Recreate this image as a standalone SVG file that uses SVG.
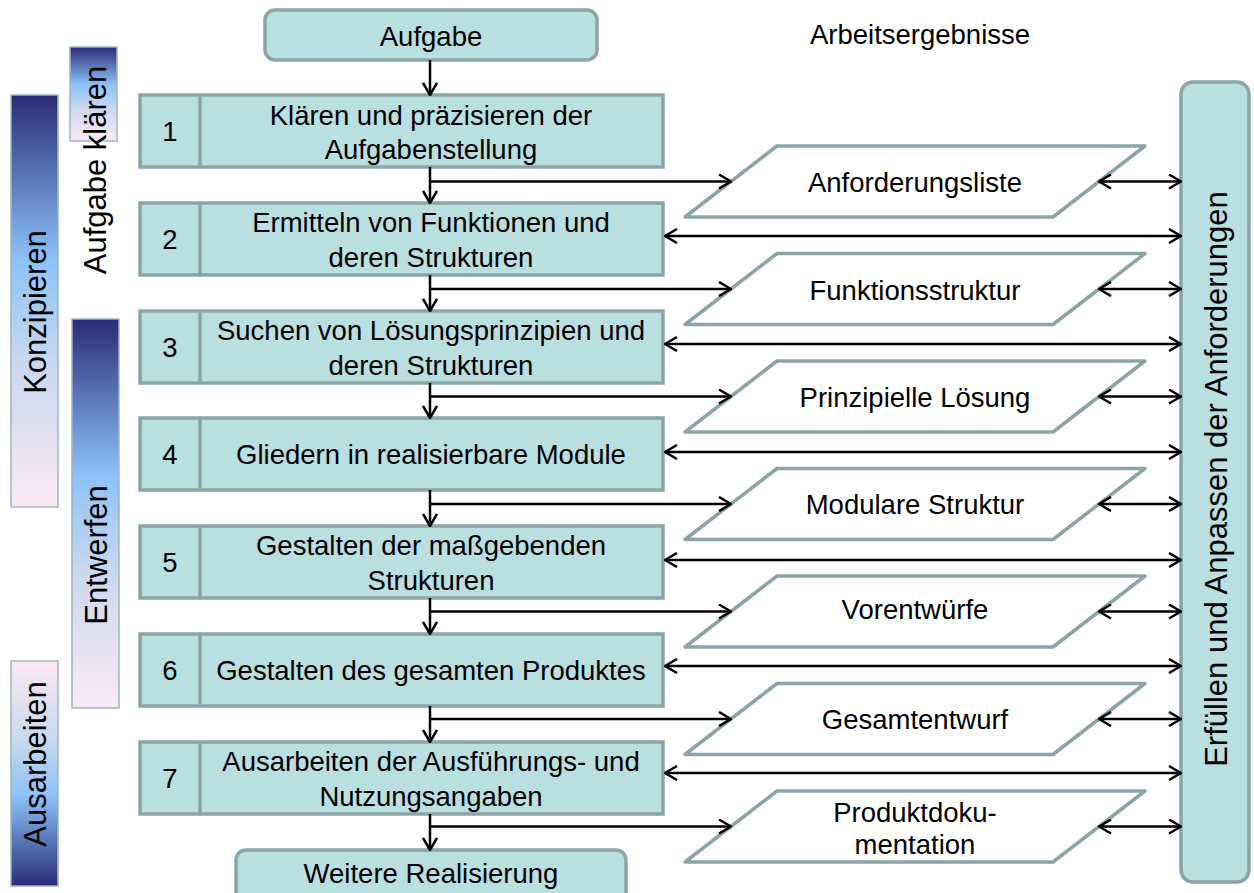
<svg xmlns="http://www.w3.org/2000/svg" width="1254" height="893" viewBox="0 0 1254 893">
  <defs>
    <style>
      text { font-family: "Liberation Sans", Arial, sans-serif; fill: #000; }
      .t { font-size: 27.5px; text-anchor: middle; }
      .rt { font-size: 31px; text-anchor: middle; }
      .box { fill: #B9DFE1; stroke: #8BA5A6; stroke-width: 3.5; }
      .doc { fill: #FFFFFF; stroke: #8BA5A6; stroke-width: 3.5; stroke-linejoin: round; }
      .phase { stroke: #9DB7BA; stroke-width: 1.5; }
      .c { fill: none; stroke: #000; stroke-width: 2.5; }
      .one { marker-end: url(#arr); }
      .two { marker-start: url(#arr); marker-end: url(#arr); }
    </style>
    <marker id="arr" viewBox="0 0 14 16" refX="13" refY="8" markerWidth="14" markerHeight="16" markerUnits="userSpaceOnUse" orient="auto-start-reverse">
      <path d="M1,1 L13,8 L1,15" fill="none" stroke="#000" stroke-width="2.5"/>
    </marker>
    <linearGradient id="gDown" x1="0" y1="0" x2="0" y2="1">
      <stop offset="0" stop-color="#2A2B78"/>
      <stop offset="0.4" stop-color="#8CC2F8"/>
      <stop offset="0.65" stop-color="#C9D8EE"/>
      <stop offset="1" stop-color="#FCE9F5"/>
    </linearGradient>
    <linearGradient id="gUp" x1="0" y1="1" x2="0" y2="0">
      <stop offset="0" stop-color="#2A2B78"/>
      <stop offset="0.4" stop-color="#8CC2F8"/>
      <stop offset="0.65" stop-color="#C9D8EE"/>
      <stop offset="1" stop-color="#FCE9F5"/>
    </linearGradient>
  </defs>

  <rect width="1254" height="893" fill="#FFFFFF"/>

  <!-- phase bars on the left -->
  <g id="phase-klaeren">
    <rect class="phase" x="70" y="47" width="47" height="94" fill="url(#gDown)"/>
  </g>
  <g id="phase-konzipieren">
    <rect class="phase" x="11" y="95" width="47" height="412" fill="url(#gDown)"/>
    <text class="rt" transform="translate(46,312) rotate(-90)">Konzipieren</text>
  </g>
  <g id="phase-entwerfen">
    <rect class="phase" x="72" y="319" width="47" height="389" fill="url(#gDown)"/>
    <text class="rt" transform="translate(107,555) rotate(-90)">Entwerfen</text>
  </g>
  <g id="phase-ausarbeiten">
    <rect class="phase" x="11" y="661" width="47" height="225" fill="url(#gUp)"/>
    <text class="rt" transform="translate(46,764) rotate(-90)">Ausarbeiten</text>
  </g>
  <g id="phase-aufgabe-label">
    <text class="rt" transform="translate(106,170) rotate(-90)">Aufgabe klären</text>
  </g>

  <!-- start and end -->
  <g id="aufgabe">
    <rect class="box" x="265" y="10" width="332" height="50" rx="10"/>
    <text class="t" x="431" y="46">Aufgabe</text>
  </g>
  <g id="weitere-realisierung">
    <rect class="box" x="236" y="850" width="390" height="60" rx="10"/>
    <text class="t" x="431" y="883">Weitere Realisierung</text>
  </g>

  <text class="t" x="920" y="44">Arbeitsergebnisse</text>

  <!-- working steps -->
  <g id="step1">
    <rect class="box" x="140" y="95" width="523" height="72"/>
    <line class="box" x1="200" y1="95" x2="200" y2="167"/>
    <text class="t" x="170" y="141">1</text>
    <text class="t" x="431" y="125">Klären und präzisieren der</text>
    <text class="t" x="431" y="159">Aufgabenstellung</text>
  </g>
  <g id="step2">
    <rect class="box" x="140" y="203" width="523" height="72"/>
    <line class="box" x1="200" y1="203" x2="200" y2="275"/>
    <text class="t" x="170" y="249">2</text>
    <text class="t" x="431" y="232">Ermitteln von Funktionen und</text>
    <text class="t" x="431" y="267">deren Strukturen</text>
  </g>
  <g id="step3">
    <rect class="box" x="140" y="311" width="523" height="72"/>
    <line class="box" x1="200" y1="311" x2="200" y2="383"/>
    <text class="t" x="170" y="357">3</text>
    <text class="t" x="431" y="340">Suchen von Lösungsprinzipien und</text>
    <text class="t" x="431" y="375">deren Strukturen</text>
  </g>
  <g id="step4">
    <rect class="box" x="140" y="418" width="523" height="72"/>
    <line class="box" x1="200" y1="418" x2="200" y2="490"/>
    <text class="t" x="170" y="464">4</text>
    <text class="t" x="431" y="464">Gliedern in realisierbare Module</text>
  </g>
  <g id="step5">
    <rect class="box" x="140" y="526" width="523" height="72"/>
    <line class="box" x1="200" y1="526" x2="200" y2="598"/>
    <text class="t" x="170" y="572">5</text>
    <text class="t" x="431" y="555">Gestalten der maßgebenden</text>
    <text class="t" x="431" y="590">Strukturen</text>
  </g>
  <g id="step6">
    <rect class="box" x="140" y="634" width="523" height="72"/>
    <line class="box" x1="200" y1="634" x2="200" y2="706"/>
    <text class="t" x="170" y="680">6</text>
    <text class="t" x="431" y="680">Gestalten des gesamten Produktes</text>
  </g>
  <g id="step7">
    <rect class="box" x="140" y="742" width="523" height="72"/>
    <line class="box" x1="200" y1="742" x2="200" y2="814"/>
    <text class="t" x="170" y="788">7</text>
    <text class="t" x="431" y="771">Ausarbeiten der Ausführungs- und</text>
    <text class="t" x="431" y="806">Nutzungsangaben</text>
  </g>

  <!-- work results -->
  <g id="result1">
    <polygon class="doc" points="777,146 1145,146 1053,217 685,217"/>
    <text class="t" x="915" y="192">Anforderungsliste</text>
  </g>
  <g id="result2">
    <polygon class="doc" points="777,253.5 1145,253.5 1053,324.5 685,324.5"/>
    <text class="t" x="915" y="300">Funktionsstruktur</text>
  </g>
  <g id="result3">
    <polygon class="doc" points="777,361 1145,361 1053,432 685,432"/>
    <text class="t" x="915" y="407">Prinzipielle Lösung</text>
  </g>
  <g id="result4">
    <polygon class="doc" points="777,468.5 1145,468.5 1053,539.5 685,539.5"/>
    <text class="t" x="915" y="514">Modulare Struktur</text>
  </g>
  <g id="result5">
    <polygon class="doc" points="777,576 1145,576 1053,647 685,647"/>
    <text class="t" x="915" y="619">Vorentwürfe</text>
  </g>
  <g id="result6">
    <polygon class="doc" points="777,683.5 1145,683.5 1053,754.5 685,754.5"/>
    <text class="t" x="915" y="729">Gesamtentwurf</text>
  </g>
  <g id="result7">
    <polygon class="doc" points="777,791 1145,791 1053,862 685,862"/>
    <text class="t" x="915" y="822">Produktdoku-</text>
    <text class="t" x="915" y="854">mentation</text>
  </g>

  <!-- requirements bar -->
  <g id="anforderungen">
    <rect class="box" x="1181" y="82" width="68" height="800" rx="12"/>
    <text class="rt" transform="translate(1227,479) rotate(-90)">Erfüllen und Anpassen der Anforderungen</text>
  </g>

  <!-- connectors -->
  <g id="connectors">
    <!-- main flow -->
    <line class="c one" x1="430" y1="60" x2="430" y2="95"/>
    <line class="c one" x1="430" y1="167" x2="430" y2="203"/>
    <line class="c one" x1="430" y1="275" x2="430" y2="311"/>
    <line class="c one" x1="430" y1="383" x2="430" y2="418"/>
    <line class="c one" x1="430" y1="490" x2="430" y2="526"/>
    <line class="c one" x1="430" y1="598" x2="430" y2="634"/>
    <line class="c one" x1="430" y1="706" x2="430" y2="742"/>
    <line class="c one" x1="430" y1="814" x2="430" y2="850"/>

    <!-- steps to results -->
    <line class="c one" x1="430" y1="181.5" x2="731" y2="181.5"/>
    <line class="c one" x1="430" y1="289" x2="731" y2="289"/>
    <line class="c one" x1="430" y1="396.5" x2="731" y2="396.5"/>
    <line class="c one" x1="430" y1="504" x2="731" y2="504"/>
    <line class="c one" x1="430" y1="611.5" x2="731" y2="611.5"/>
    <line class="c one" x1="430" y1="719" x2="731" y2="719"/>
    <line class="c one" x1="430" y1="826.5" x2="731" y2="826.5"/>

    <!-- results to requirements -->
    <line class="c two" x1="1099" y1="181.5" x2="1181" y2="181.5"/>
    <line class="c two" x1="1099" y1="289" x2="1181" y2="289"/>
    <line class="c two" x1="1099" y1="396.5" x2="1181" y2="396.5"/>
    <line class="c two" x1="1099" y1="504" x2="1181" y2="504"/>
    <line class="c two" x1="1099" y1="611.5" x2="1181" y2="611.5"/>
    <line class="c two" x1="1099" y1="719" x2="1181" y2="719"/>
    <line class="c two" x1="1099" y1="826.5" x2="1181" y2="826.5"/>

    <!-- steps to requirements -->
    <line class="c two" x1="665" y1="236" x2="1181" y2="236"/>
    <line class="c two" x1="665" y1="344" x2="1181" y2="344"/>
    <line class="c two" x1="665" y1="452" x2="1181" y2="452"/>
    <line class="c two" x1="665" y1="560" x2="1181" y2="560"/>
    <line class="c two" x1="665" y1="666" x2="1181" y2="666"/>
    <line class="c two" x1="665" y1="773" x2="1181" y2="773"/>
  </g>
</svg>
